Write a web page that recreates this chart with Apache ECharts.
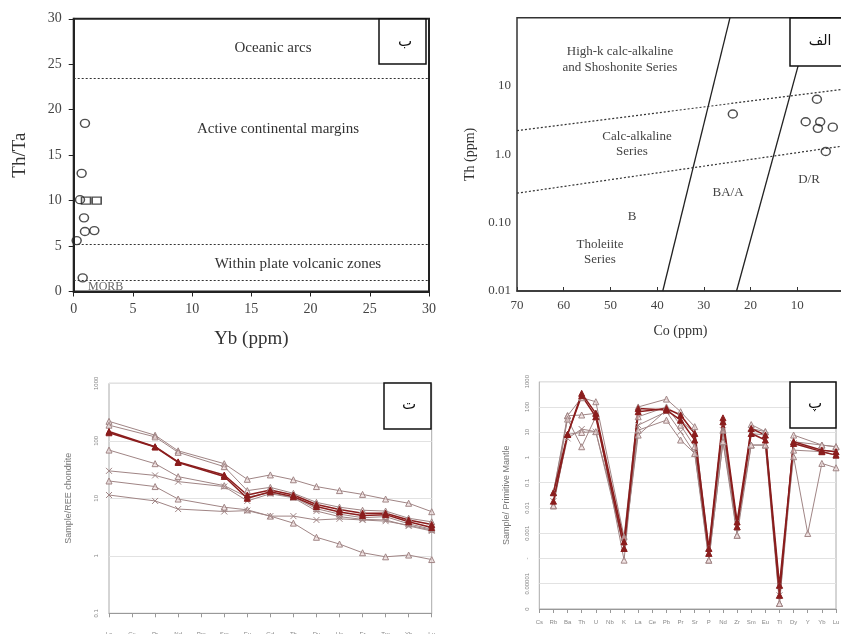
<!DOCTYPE html>
<html>
<head>
<meta charset="utf-8">
<script src="https://cdn.jsdelivr.net/npm/echarts@6/dist/echarts.min.js"></script>
<style>
  html, body { margin: 0; padding: 0; background: #fff; }
  #chart { width: 841px; height: 634px; }
</style>
</head>
<body>
<div id="chart"></div>
<script>
// panel ب : Th/Ta vs Yb
const ybCircles = [[0.95,18.5],[0.67,13.0],[0.53,10.1],[0.87,8.1],[0.95,6.6],[1.74,6.7],[0.25,5.6],[0.76,1.5]];
const ybSquares = [[1.04,10.0],[1.94,10.0]];
const thTaBounds = [23.5, 5.2, 1.2];

// panel الف : Th vs Co
const coThPoints = [[23.8,3.9],[5.8,6.4],[8.2,3.0],[5.1,3.0],[5.6,2.4],[2.4,2.5],[3.9,1.1]];
const coBoundA = [[24.4,100],[38.8,0.01]];
const coBoundB = [[7.0,100],[23.0,0.01]];
const thBoundUpper = [[70,2.22],[0,9.0]];
const thBoundLower = [[70,0.27],[0,1.33]];

// panel ت : REE chondrite normalised
const reeElements = ['La','Ce','Pr','Nd','Pm','Sm','Eu','Gd','Tb','Dy','Ho','Er','Tm','Yb','Lu'];
const reeT = [218,null,125,67,null,40,21.4,25.5,21,16,13.6,11.7,9.7,8.2,5.85];
const reeA = [187,null,117,63,null,35.5,13.6,15.5,12.2,8.5,7.0,6.2,6.0,4.5,3.9];
const reeB = [145,null,79,43,null,25.4,11.4,14,11.4,7.8,6.4,5.5,5.5,4.2,3.5];
const reeC = [138,null,78,42,null,24,10,13,10.7,7.2,5.8,5.0,5.2,3.9,3.1];
const reeD = [69,null,40,23.8,null,16.6,10.5,12.5,10.5,6.6,5.3,4.6,4.8,3.6,2.9];
const reeE = [30,null,25,19.5,null,16,9.0,12,10.2,6.0,4.8,4.3,4.2,3.3,2.7];
const reeF = [20,null,16,9.7,null,7.0,6.3,4.9,3.7,2.1,1.6,1.13,0.96,1.03,0.86];
const reeG = [11.4,null,9.0,6.5,null,5.9,6.1,4.9,4.9,4.2,4.4,4.2,4.0,3.4,2.8];

// panel پ : primitive mantle normalised
const spiderElements = ['Cs','Rb','Ba','Th','U','Nb','K','La','Ce','Pb','Pr','Sr','P','Nd','Zr','Sm','Eu','Ti','Dy','Y','Yb','Lu'];
const sp1 = [null,0.04,8.2,346,56,null,0.00046,87,null,75,30,4.9,0.00016,26,0.0018,8.9,4.9,3.5e-6,4.2,null,1.95,1.7];
const sp2 = [null,0.0186,8.2,279,41,null,0.00025,65,null,87,48,8.9,0.00025,37,0.0028,14,7.7,8.7e-6,3.6,null,1.7,1.24];
const sp3 = [null,0.041,45,232,161,null,0.00072,100,null,205,65,16.6,0.00016,12,0.00083,20,10.5,1.66e-6,7.7,null,3.1,2.66];
const sp4 = [null,0.0122,45,48,56,null,0.000086,41,null,100,19,2.66,0.000086,4.2,0.0018,3.1,3.1,1.66e-6,1.95,null,1.7,1.24];
const sp5 = [null,0.0186,5.7,13.3,10.5,null,0.00046,19,null,65,10.5,1.45,0.00016,12,0.0028,8.9,7.7,3.5e-6,3.6,null,1.95,1.7];
const sp6 = [null,0.0122,8.2,9.8,10.5,null,0.00025,12,null,30,4.9,1.45,0.000086,4.2,0.00083,3.1,3.1,8.7e-6,1.07,0.00098,0.58,0.39];
const sp7 = [null,0.041,33,2.66,41,null,0.00025,7.7,null,75,30,8.9,0.00025,26,0.0018,14,10.5,3.5e-6,4.2,null,3.1,2.66];

const serif = 'Liberation Serif';
const sans = 'Liberation Sans';
const light = '#a08585';
const dark = '#8b1d1d';
const crossSym = 'path://M0,0L10,10M10,0L0,10';

function logLabel(map) {
  return function (v) {
    const k = Math.round(Math.log10(v));
    return map[k] !== undefined ? map[k] : '';
  };
}

function reeSeries(data, color, symbol, filled, width) {
  return {
    type: 'line', xAxisIndex: 2, yAxisIndex: 2, data: data, connectNulls: true,
    symbol: symbol, symbolSize: 6,
    lineStyle: { color: color, width: width },
    itemStyle: { color: filled ? color : 'rgba(235,215,215,0.6)', borderColor: color, borderWidth: 1 }
  };
}
function spSeries(data, color, symbol, filled, width) {
  const s = reeSeries(data, color, symbol, filled, width);
  s.xAxisIndex = 3; s.yAxisIndex = 3;
  return s;
}

const chart = echarts.init(document.getElementById('chart'));
chart.setOption({
  backgroundColor: '#fff',
  animation: false,
  grid: [
    { left: 73.7, top: 18.8, width: 355.3, height: 272.7, show: true, borderColor: '#222', borderWidth: 2, containLabel: false, outerBoundsMode: 'none' },
    { left: 517, top: 17.7, width: 327, height: 273.3, show: true, borderColor: '#333', borderWidth: 1.5, containLabel: false, outerBoundsMode: 'none' },
    { left: 109, top: 383.3, width: 322.7, height: 230, show: true, borderColor: '#aaa', borderWidth: 1, containLabel: false, outerBoundsMode: 'none' },
    { left: 539.3, top: 381.7, width: 296.7, height: 227.3, show: true, borderColor: '#aaa', borderWidth: 1, containLabel: false, outerBoundsMode: 'none' }
  ],
  xAxis: [
    {
      gridIndex: 0, type: 'value', min: 0, max: 30, interval: 5,
      name: 'Yb (ppm)', nameLocation: 'middle', nameGap: 38,
      nameTextStyle: { fontFamily: serif, fontSize: 19, color: '#333' },
      axisLine: { lineStyle: { color: '#222', width: 2 } },
      axisTick: { length: 5, lineStyle: { color: '#222' } },
      axisLabel: { fontFamily: serif, fontSize: 14, color: '#444', margin: 11 },
      splitLine: { show: false }
    },
    {
      gridIndex: 1, type: 'value', min: 0, max: 70, interval: 10, inverse: true,
      name: 'Co (ppm)', nameLocation: 'middle', nameGap: 33,
      nameTextStyle: { fontFamily: serif, fontSize: 14, color: '#333' },
      axisLine: { lineStyle: { color: '#333', width: 1.5 } },
      axisTick: { inside: true, length: 4, lineStyle: { color: '#333' } },
      axisLabel: { fontFamily: serif, fontSize: 13, color: '#444', margin: 8, showMaxLabel: true, showMinLabel: true },
      splitLine: { show: false }
    },
    {
      gridIndex: 2, type: 'category', data: reeElements, boundaryGap: false,
      axisLine: { lineStyle: { color: '#999' } },
      axisTick: { length: 4, alignWithLabel: true, lineStyle: { color: '#999' } },
      axisLabel: { fontFamily: sans, fontSize: 6, color: '#888', margin: 18, interval: 0 },
      splitLine: { show: false }
    },
    {
      gridIndex: 3, type: 'category', data: spiderElements, boundaryGap: false,
      axisLine: { lineStyle: { color: '#999' } },
      axisTick: { length: 4, lineStyle: { color: '#999' } },
      axisLabel: { fontFamily: sans, fontSize: 6, color: '#888', margin: 10, interval: 0 },
      splitLine: { show: false }
    }
  ],
  yAxis: [
    {
      gridIndex: 0, type: 'value', min: 0, max: 30, interval: 5,
      name: 'Th/Ta', nameLocation: 'middle', nameGap: 44,
      nameTextStyle: { fontFamily: serif, fontSize: 19, color: '#333' },
      axisLine: { lineStyle: { color: '#222', width: 2 } },
      axisTick: { length: 5, lineStyle: { color: '#222' } },
      axisLabel: { fontFamily: serif, fontSize: 14, color: '#444', margin: 12 },
      splitLine: { show: false }
    },
    {
      gridIndex: 1, type: 'log', logBase: 10, min: 0.01, max: 100, interval: 1,
      name: 'Th (ppm)', nameLocation: 'middle', nameGap: 40,
      nameTextStyle: { fontFamily: serif, fontSize: 14, color: '#333' },
      axisLine: { lineStyle: { color: '#333', width: 1.5 } },
      axisTick: { length: 3, lineStyle: { color: '#333' } },
      axisLabel: { fontFamily: serif, fontSize: 13, color: '#444', margin: 6,
        formatter: logLabel({ '-2': '0.01', '-1': '0.10', '0': '1.0', '1': '10' }) },
      splitLine: { show: false }
    },
    {
      gridIndex: 2, type: 'log', logBase: 10, min: 0.1, max: 1000, interval: 1,
      name: 'Sample/REE chondrite', nameLocation: 'middle', nameGap: 36,
      nameTextStyle: { fontFamily: sans, fontSize: 9, color: '#777' },
      axisLine: { lineStyle: { color: '#999' } },
      axisTick: { length: 4, lineStyle: { color: '#999' } },
      axisLabel: { fontFamily: sans, fontSize: 6, color: '#888', margin: 10, rotate: 90,
        formatter: logLabel({ '-1': '0.1', '0': '1', '1': '10', '2': '100', '3': '1000' }) },
      splitLine: { show: true, lineStyle: { color: '#e2e2e2' } }
    },
    {
      gridIndex: 3, type: 'log', logBase: 10, min: 0.000001, max: 1000, interval: 1,
      name: 'Sample/ Primitive Mantle', nameLocation: 'middle', nameGap: 28,
      nameTextStyle: { fontFamily: sans, fontSize: 9, color: '#777' },
      axisLine: { lineStyle: { color: '#999' } },
      axisTick: { length: 4, lineStyle: { color: '#999' } },
      axisLabel: { fontFamily: sans, fontSize: 6, color: '#888', margin: 9, rotate: 90,
        formatter: logLabel({ '-6': '0', '-5': '0.00001', '-4': '-', '-3': '0.001', '-2': '0.01', '-1': '0.1', '0': '1', '1': '10', '2': '100', '3': '1000' }) },
      splitLine: { show: true, lineStyle: { color: '#e2e2e2' } }
    }
  ],
  series: [
    {
      type: 'scatter', xAxisIndex: 0, yAxisIndex: 0, data: ybCircles,
      symbol: 'circle', symbolSize: [9, 8],
      itemStyle: { color: 'rgba(0,0,0,0)', borderColor: '#222', borderWidth: 1.4 },
      markLine: {
        silent: true, symbol: 'none', label: { show: false },
        lineStyle: { color: '#333', type: [2, 2], width: 1.2 },
        data: thTaBounds.map(v => ({ yAxis: v }))
      }
    },
    {
      type: 'scatter', xAxisIndex: 0, yAxisIndex: 0, data: ybSquares,
      symbol: 'rect', symbolSize: [9, 7],
      itemStyle: { color: 'rgba(0,0,0,0)', borderColor: '#222', borderWidth: 1.4 }
    },
    { type: 'line', xAxisIndex: 1, yAxisIndex: 1, data: coBoundA, showSymbol: false, lineStyle: { color: '#222', width: 1.3 } },
    { type: 'line', xAxisIndex: 1, yAxisIndex: 1, data: coBoundB, showSymbol: false, lineStyle: { color: '#222', width: 1.3 } },
    { type: 'line', xAxisIndex: 1, yAxisIndex: 1, data: thBoundUpper, showSymbol: false, lineStyle: { color: '#333', width: 1.2, type: [2, 2] } },
    { type: 'line', xAxisIndex: 1, yAxisIndex: 1, data: thBoundLower, showSymbol: false, lineStyle: { color: '#333', width: 1.2, type: [2, 2] } },
    {
      type: 'scatter', xAxisIndex: 1, yAxisIndex: 1, data: coThPoints,
      symbol: 'circle', symbolSize: [9, 8],
      itemStyle: { color: 'rgba(0,0,0,0)', borderColor: '#222', borderWidth: 1.4 }
    },
    reeSeries(reeT, light, 'triangle', false, 1),
    reeSeries(reeA, light, 'triangle', false, 1),
    reeSeries(reeD, light, 'triangle', false, 1),
    reeSeries(reeE, light, crossSym, false, 1),
    reeSeries(reeF, light, 'triangle', false, 1),
    reeSeries(reeG, light, crossSym, false, 1),
    reeSeries(reeB, dark, 'triangle', true, 1.5),
    reeSeries(reeC, dark, 'triangle', true, 1.5),
    spSeries(sp3, light, 'triangle', false, 1),
    spSeries(sp4, light, 'triangle', false, 1),
    spSeries(sp5, light, crossSym, false, 1),
    spSeries(sp6, light, 'triangle', false, 1),
    spSeries(sp7, light, 'triangle', false, 1),
    spSeries(sp1, dark, 'triangle', true, 1.5),
    spSeries(sp2, dark, 'triangle', true, 1.5)
  ],
  graphic: [
    // panel ب annotations
    { type: 'text', z: 100, style: { text: 'Oceanic arcs', x: 273, y: 48, align: 'center', verticalAlign: 'middle', font: '15px "Liberation Serif"', fill: '#333' } },
    { type: 'text', z: 100, style: { text: 'Active continental margins', x: 278, y: 129, align: 'center', verticalAlign: 'middle', font: '15px "Liberation Serif"', fill: '#333' } },
    { type: 'text', z: 100, style: { text: 'Within plate volcanic zones', x: 298, y: 264, align: 'center', verticalAlign: 'middle', font: '15px "Liberation Serif"', fill: '#333' } },
    { type: 'text', z: 100, style: { text: 'MORB', x: 88, y: 287, align: 'left', verticalAlign: 'middle', font: '12px "Liberation Serif"', fill: '#666' } },
    { type: 'rect', z: 100, shape: { x: 379, y: 19, width: 47, height: 45 }, style: { fill: '#fff', stroke: '#111', lineWidth: 1.5 } },
    { type: 'text', z: 101, style: { text: 'ب', x: 405, y: 42, align: 'center', verticalAlign: 'middle', font: '15px "DejaVu Sans"', fill: '#111' } },
    // panel الف annotations
    { type: 'text', z: 100, style: { text: 'High-k calc-alkaline', x: 620, y: 52, align: 'center', verticalAlign: 'middle', font: '13px "Liberation Serif"', fill: '#444' } },
    { type: 'text', z: 100, style: { text: 'and Shoshonite Series', x: 620, y: 68, align: 'center', verticalAlign: 'middle', font: '13px "Liberation Serif"', fill: '#444' } },
    { type: 'text', z: 100, style: { text: 'Calc-alkaline', x: 637, y: 137, align: 'center', verticalAlign: 'middle', font: '13px "Liberation Serif"', fill: '#444' } },
    { type: 'text', z: 100, style: { text: 'Series', x: 632, y: 152, align: 'center', verticalAlign: 'middle', font: '13px "Liberation Serif"', fill: '#444' } },
    { type: 'text', z: 100, style: { text: 'BA/A', x: 728, y: 193, align: 'center', verticalAlign: 'middle', font: '13px "Liberation Serif"', fill: '#444' } },
    { type: 'text', z: 100, style: { text: 'D/R', x: 809, y: 180, align: 'center', verticalAlign: 'middle', font: '13px "Liberation Serif"', fill: '#444' } },
    { type: 'text', z: 100, style: { text: 'B', x: 632, y: 217, align: 'center', verticalAlign: 'middle', font: '13px "Liberation Serif"', fill: '#444' } },
    { type: 'text', z: 100, style: { text: 'Tholeiite', x: 600, y: 245, align: 'center', verticalAlign: 'middle', font: '13px "Liberation Serif"', fill: '#444' } },
    { type: 'text', z: 100, style: { text: 'Series', x: 600, y: 260, align: 'center', verticalAlign: 'middle', font: '13px "Liberation Serif"', fill: '#444' } },
    { type: 'rect', z: 100, shape: { x: 790, y: 18, width: 60, height: 48 }, style: { fill: '#fff', stroke: '#111', lineWidth: 1.5 } },
    { type: 'text', z: 101, style: { text: 'الف', x: 820, y: 41, align: 'center', verticalAlign: 'middle', font: '14px "DejaVu Sans"', fill: '#111' } },
    // panel ت label
    { type: 'rect', z: 100, shape: { x: 384, y: 383, width: 47, height: 46 }, style: { fill: '#fff', stroke: '#111', lineWidth: 1.5 } },
    { type: 'text', z: 101, style: { text: 'ت', x: 409, y: 405, align: 'center', verticalAlign: 'middle', font: '15px "DejaVu Sans"', fill: '#111' } },
    // panel پ label
    { type: 'rect', z: 100, shape: { x: 790, y: 382, width: 46, height: 46 }, style: { fill: '#fff', stroke: '#111', lineWidth: 1.5 } },
    { type: 'text', z: 101, style: { text: 'پ', x: 815, y: 404, align: 'center', verticalAlign: 'middle', font: '15px "DejaVu Sans"', fill: '#111' } }
  ]
});
</script>
</body>
</html>
